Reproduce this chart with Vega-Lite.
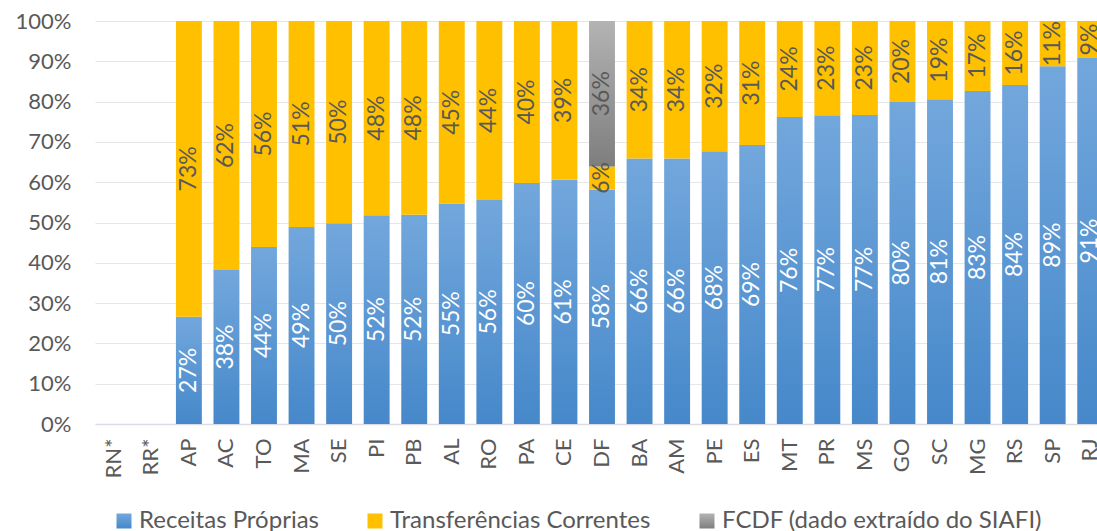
{
  "$schema": "https://vega.github.io/schema/vega-lite/v6.json",
  "autosize": "none",
  "padding": {"left": 95, "top": 21, "right": 0, "bottom": 107},
  "width": 1002,
  "height": 403,
  "background": "white",
  "config": {
    "font": "Lato",
    "view": {"stroke": null},
    "axis": {"labelFont": "Lato", "labelColor": "#595959", "ticks": false}
  },
  "data": {
    "values": [
      {"uf": "AP", "serie": "Receitas Próprias", "k": 1, "v": 0.266},
      {"uf": "AP", "serie": "Transferências Correntes", "k": 2, "v": 0.734},
      {"uf": "AC", "serie": "Receitas Próprias", "k": 1, "v": 0.382},
      {"uf": "AC", "serie": "Transferências Correntes", "k": 2, "v": 0.618},
      {"uf": "TO", "serie": "Receitas Próprias", "k": 1, "v": 0.439},
      {"uf": "TO", "serie": "Transferências Correntes", "k": 2, "v": 0.561},
      {"uf": "MA", "serie": "Receitas Próprias", "k": 1, "v": 0.489},
      {"uf": "MA", "serie": "Transferências Correntes", "k": 2, "v": 0.511},
      {"uf": "SE", "serie": "Receitas Próprias", "k": 1, "v": 0.498},
      {"uf": "SE", "serie": "Transferências Correntes", "k": 2, "v": 0.502},
      {"uf": "PI", "serie": "Receitas Próprias", "k": 1, "v": 0.518},
      {"uf": "PI", "serie": "Transferências Correntes", "k": 2, "v": 0.482},
      {"uf": "PB", "serie": "Receitas Próprias", "k": 1, "v": 0.519},
      {"uf": "PB", "serie": "Transferências Correntes", "k": 2, "v": 0.481},
      {"uf": "AL", "serie": "Receitas Próprias", "k": 1, "v": 0.547},
      {"uf": "AL", "serie": "Transferências Correntes", "k": 2, "v": 0.453},
      {"uf": "RO", "serie": "Receitas Próprias", "k": 1, "v": 0.556},
      {"uf": "RO", "serie": "Transferências Correntes", "k": 2, "v": 0.444},
      {"uf": "PA", "serie": "Receitas Próprias", "k": 1, "v": 0.598},
      {"uf": "PA", "serie": "Transferências Correntes", "k": 2, "v": 0.402},
      {"uf": "CE", "serie": "Receitas Próprias", "k": 1, "v": 0.606},
      {"uf": "CE", "serie": "Transferências Correntes", "k": 2, "v": 0.394},
      {"uf": "DF", "serie": "Receitas Próprias", "k": 1, "v": 0.582},
      {"uf": "DF", "serie": "Transferências Correntes", "k": 2, "v": 0.057},
      {"uf": "DF", "serie": "FCDF (dado extraído do SIAFI)", "k": 3, "v": 0.361},
      {"uf": "BA", "serie": "Receitas Próprias", "k": 1, "v": 0.659},
      {"uf": "BA", "serie": "Transferências Correntes", "k": 2, "v": 0.341},
      {"uf": "AM", "serie": "Receitas Próprias", "k": 1, "v": 0.659},
      {"uf": "AM", "serie": "Transferências Correntes", "k": 2, "v": 0.341},
      {"uf": "PE", "serie": "Receitas Próprias", "k": 1, "v": 0.677},
      {"uf": "PE", "serie": "Transferências Correntes", "k": 2, "v": 0.323},
      {"uf": "ES", "serie": "Receitas Próprias", "k": 1, "v": 0.692},
      {"uf": "ES", "serie": "Transferências Correntes", "k": 2, "v": 0.308},
      {"uf": "MT", "serie": "Receitas Próprias", "k": 1, "v": 0.762},
      {"uf": "MT", "serie": "Transferências Correntes", "k": 2, "v": 0.238},
      {"uf": "PR", "serie": "Receitas Próprias", "k": 1, "v": 0.766},
      {"uf": "PR", "serie": "Transferências Correntes", "k": 2, "v": 0.234},
      {"uf": "MS", "serie": "Receitas Próprias", "k": 1, "v": 0.767},
      {"uf": "MS", "serie": "Transferências Correntes", "k": 2, "v": 0.233},
      {"uf": "GO", "serie": "Receitas Próprias", "k": 1, "v": 0.799},
      {"uf": "GO", "serie": "Transferências Correntes", "k": 2, "v": 0.201},
      {"uf": "SC", "serie": "Receitas Próprias", "k": 1, "v": 0.806},
      {"uf": "SC", "serie": "Transferências Correntes", "k": 2, "v": 0.194},
      {"uf": "MG", "serie": "Receitas Próprias", "k": 1, "v": 0.826},
      {"uf": "MG", "serie": "Transferências Correntes", "k": 2, "v": 0.174},
      {"uf": "RS", "serie": "Receitas Próprias", "k": 1, "v": 0.841},
      {"uf": "RS", "serie": "Transferências Correntes", "k": 2, "v": 0.159},
      {"uf": "SP", "serie": "Receitas Próprias", "k": 1, "v": 0.888},
      {"uf": "SP", "serie": "Transferências Correntes", "k": 2, "v": 0.112},
      {"uf": "RJ", "serie": "Receitas Próprias", "k": 1, "v": 0.908},
      {"uf": "RJ", "serie": "Transferências Correntes", "k": 2, "v": 0.092}
    ]
  },
  "transform": [
    {"stack": "v", "groupby": ["uf"], "sort": [{"field": "k", "order": "ascending"}], "as": ["y0", "y1"]},
    {"calculate": "(datum.y0 + datum.y1) / 2", "as": "ym"}
  ],
  "encoding": {
    "x": {
      "field": "uf",
      "type": "nominal",
      "sort": null,
      "scale": {
        "domain": ["RN*", "RR*", "AP", "AC", "TO", "MA", "SE", "PI", "PB", "AL", "RO", "PA", "CE", "DF", "BA", "AM", "PE", "ES", "MT", "PR", "MS", "GO", "SC", "MG", "RS", "SP", "RJ"],
        "range": [0, 1014],
        "paddingInner": 0.31,
        "paddingOuter": 0.155
      },
      "axis": {
        "title": null,
        "labelAngle": -90,
        "labelAlign": "right",
        "labelBaseline": "middle",
        "labelFontSize": 22,
        "labelPadding": 14,
        "domainColor": "#D9DCE3",
        "domainWidth": 1.5,
        "grid": false
      }
    }
  },
  "layer": [
    {
      "mark": {"type": "bar", "clip": false},
      "encoding": {
        "y": {
          "field": "y0",
          "type": "quantitative",
          "scale": {"domain": [0, 1], "nice": false},
          "axis": {
            "title": null,
            "values": [0, 0.1, 0.2, 0.3, 0.4, 0.5, 0.6, 0.7, 0.8, 0.9, 1],
            "format": ".0%",
            "labelFontSize": 22,
            "labelPadding": 24,
            "domain": false,
            "gridColor": "#E4E6EA",
            "gridWidth": 1.2
          }
        },
        "y2": {"field": "y1"},
        "color": {
          "field": "serie",
          "type": "nominal",
          "scale": {
            "domain": ["Receitas Próprias", "Transferências Correntes", "FCDF (dado extraído do SIAFI)"],
            "range": [
              {"expr": "{gradient: 'linear', x1: 0, y1: 0, x2: 0, y2: 1, stops: [{offset: 0, color: '#72A7DC'}, {offset: 1, color: '#4688CA'}]}"},
              "#FFC000",
              {"expr": "{gradient: 'linear', x1: 0, y1: 0, x2: 0, y2: 1, stops: [{offset: 0, color: '#B3B3B3'}, {offset: 1, color: '#7E7E7E'}]}"}
            ]
          },
          "legend": {
            "title": null,
            "orient": "none",
            "direction": "horizontal",
            "legendX": 17,
            "legendY": 488,
            "symbolType": "square",
            "symbolSize": 225,
            "symbolStrokeWidth": 0,
            "labelFontSize": 24,
            "labelColor": "#595959",
            "labelFont": "Lato",
            "labelOffset": 3,
            "columnPadding": 44,
            "labelLimit": 500,
            "padding": 0
          }
        }
      }
    },
    {
      "mark": {"type": "text", "angle": 270, "align": "center", "baseline": "middle", "fontSize": 23, "font": "Lato"},
      "encoding": {
        "y": {"field": "ym", "type": "quantitative"},
        "text": {"field": "v", "type": "quantitative", "format": ".0%"},
        "color": {
          "condition": {"test": "datum.serie === 'Receitas Próprias'", "value": "#FFFFFF"},
          "value": "#595959"
        }
      }
    }
  ]
}
